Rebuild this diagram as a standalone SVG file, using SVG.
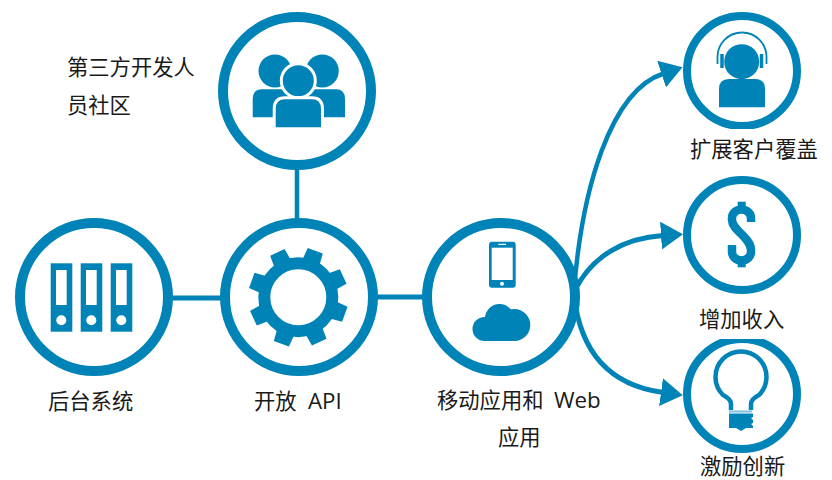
<svg xmlns="http://www.w3.org/2000/svg" width="832" height="480" viewBox="0 0 832 480">
<style>
.big{fill:#fff;stroke:#0083b6;stroke-width:10}
.small{fill:#fff;stroke:#0083b6;stroke-width:8}
.f{fill:#0083b6}
.w{fill:#fff}
.ws{fill:#0083b6;stroke:#fff;stroke-width:3}
.l{fill:none;stroke:#0083b6}
.t{font-family:"Open Sans","Noto Sans CJK SC",sans-serif;font-size:21.300px;fill:#1a1a1a}
.lat{font-size:22.300px}
</style>
<defs>
<marker id="ah" markerUnits="userSpaceOnUse" viewBox="0 0 22 28" refX="2" refY="14" markerWidth="22" markerHeight="28" orient="auto"><path d="M0 0L22 14L0 28Z" fill="#0083b6"/></marker>
<path id="tooth" d="M-9 -37L-8 -49.500H8L9 -37Z" fill="#0083b6"/>
<clipPath id="clipBulb"><rect x="675" y="339" width="135" height="120"/></clipPath>
<clipPath id="clipHead"><rect x="675" y="5" width="135" height="124"/></clipPath>
</defs>
<rect width="832" height="480" fill="#fff"/>
<g id="connectors">
<path class="l" stroke-width="4.500" d="M297 165V222"/>
<path class="l" stroke-width="5" d="M170 298H222"/>
<path class="l" stroke-width="5" d="M376 297H426"/>
<path class="l" stroke-width="4.500" marker-end="url(#ah)" d="M574 290C582 190 610 91 663.500 73.500"/>
<path class="l" stroke-width="5" marker-end="url(#ah)" d="M574 292C592 255 625 238 663 235.500"/>
<path class="l" stroke-width="5" marker-end="url(#ah)" d="M574 295C580 350 608 385 663 392.500"/>
</g>
<g id="community">
<circle class="big" cx="297" cy="91" r="74"/>
<circle class="f" cx="275" cy="71" r="16.500"/>
<circle class="f" cx="322.300" cy="71" r="16.500"/>
<path class="f" d="M252.700 117.300V99Q252.700 89.300 262 89.300H290V117.300Z"/>
<path class="f" d="M345 117.300V99Q345 89.300 336 89.300H306V117.300Z"/>
<circle class="ws" cx="298.300" cy="80.700" r="17"/>
<path class="ws" d="M274.200 128.800V109Q274.200 97.800 285 97.800H312Q322.500 97.800 322.500 109V128.800Z"/>
<text class="t" x="67" y="75">第三方开发人</text>
<text class="t" x="67" y="113">员社区</text>
</g>
<g id="backend">
<circle class="big" cx="94" cy="297" r="74"/>
<g id="binders">
<rect class="f" x="50.700" y="263.300" width="21.600" height="68.400"/>
<rect class="w" x="56" y="270" width="10.700" height="35"/>
<circle class="w" cx="61.300" cy="320.300" r="5"/>
<rect class="f" x="80.700" y="263.300" width="21.600" height="68.400"/>
<rect class="w" x="86" y="270" width="10.700" height="35"/>
<circle class="w" cx="91.300" cy="320.300" r="5"/>
<rect class="f" x="110.700" y="263.300" width="21.600" height="68.400"/>
<rect class="w" x="116" y="270" width="10.700" height="35"/>
<circle class="w" cx="121.300" cy="320.300" r="5"/>
</g>
<text class="t" x="48" y="409">后台系统</text>
</g>
<g id="api">
<circle class="big" cx="299" cy="297" r="74"/>
<g transform="translate(298.300 297.300)">
<circle class="l" r="34" stroke-width="12"/>
<use href="#tooth" transform="rotate(20)"/>
<use href="#tooth" transform="rotate(65)"/>
<use href="#tooth" transform="rotate(110)"/>
<use href="#tooth" transform="rotate(155)"/>
<use href="#tooth" transform="rotate(200)"/>
<use href="#tooth" transform="rotate(245)"/>
<use href="#tooth" transform="rotate(290)"/>
<use href="#tooth" transform="rotate(335)"/>
</g>
<text class="t" x="254" y="409">开放<tspan class="lat" x="308">API</tspan></text>
</g>
<g id="mobile">
<circle class="big" cx="501" cy="297" r="74"/>
<rect class="f" x="489" y="241.700" width="26.700" height="46" rx="3"/>
<rect class="w" x="491.700" y="247.700" width="21" height="32.300"/>
<circle class="w" cx="502" cy="283.700" r="2"/>
<rect class="w" x="498.300" y="243.800" width="7.700" height="1.200"/>
<circle class="f" cx="484.500" cy="329" r="12"/>
<circle class="f" cx="499.500" cy="318.500" r="14.500"/>
<circle class="f" cx="514.300" cy="325" r="16"/>
<rect class="f" x="484" y="320" width="30" height="21"/>
<text class="t" x="437" y="408">移动应用和<tspan class="lat" x="554">Web</tspan></text>
<text class="t" x="498" y="445">应用</text>
</g>
<g id="coverage">
<circle class="small" cx="742" cy="71" r="55" clip-path="url(#clipHead)"/>
<circle class="f" cx="741.700" cy="61.700" r="17.500"/>
<path class="f" d="M719 107.300V89Q719 79 729 79H755Q765 79 765 89V107.300Z"/>
<path class="l" stroke-width="1.800" d="M717.500 64V57A24.500 24.500 0 0 1 766.500 57V64"/>
<path class="l" stroke-width="3.500" d="M722 54V68M761.500 54V68"/>
<text class="t" x="690" y="157">扩展客户覆盖</text>
</g>
<g id="revenue">
<circle class="small" cx="742" cy="235" r="55"/>
<path class="l" stroke-width="8.500" d="M751 222V218A9.500 8.500 0 0 0 732 218V220C732 230 751 238 751 250V252A9.500 8.500 0 0 1 732 252V245"/>
<rect class="f" x="737.700" y="201.700" width="8" height="10"/>
<rect class="f" x="737.700" y="258" width="8" height="9.300"/>
<text class="t" x="699" y="327">增加收入</text>
</g>
<g id="innovation">
<circle class="small" cx="742" cy="394" r="55" clip-path="url(#clipBulb)"/>
<path class="l" stroke-width="4.500" d="M731 410V404Q731 399 723 395A25.500 25.500 0 1 1 759 395Q751 399 751 404V410"/>
<rect x="729" y="410.500" width="23" height="2" fill="#7fc0db"/>
<path class="f" d="M729 413.500H753V417L751 418L753 420V423L751 424L753 426V428H746L741 431L736 428H729Z"/>
<text class="t" x="700" y="473.500">激励创新</text>
</g>
</svg>
